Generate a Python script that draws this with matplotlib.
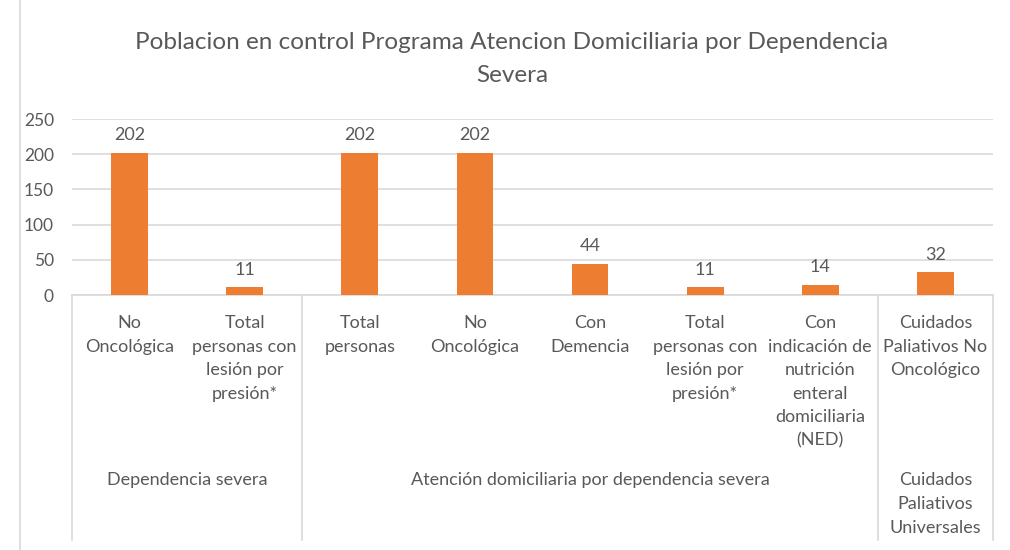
import matplotlib.pyplot as plt
import matplotlib.transforms as mtransforms

plt.rcParams["font.family"] = ["Lato", "DejaVu Sans"]

categories = [
    "No\nOncológica",
    "Total\npersonas con\nlesión por\npresión*",
    "Total\npersonas",
    "No\nOncológica",
    "Con\nDemencia",
    "Total\npersonas con\nlesión por\npresión*",
    "Con\nindicación de\nnutrición\nenteral\ndomiciliaria\n(NED)",
    "Cuidados\nPaliativos No\nOncológico",
]
values = [202, 11, 202, 202, 44, 11, 14, 32]
groups = ["Dependencia severa", "Atención domiciliaria por dependencia severa",
          "Cuidados\nPaliativos\nUniversales"]
group_sizes = [2, 5, 1]
yticks = [0, 50, 100, 150, 200, 250]

W, H = 1010, 550
TXT = "#595959"
LINE = "#d9d9d9"
BAR = "#ED7D31"
FS = 13


def fy(px):
    return 1 - px / H


fig = plt.figure(figsize=(W / 100, H / 100), dpi=100)
ax = fig.add_axes([72 / W, fy(295), (993 - 72) / W, (295 - 119) / H])

x = list(range(len(values)))
bars = ax.bar(x, values, width=0.32, color=BAR, zorder=3)
for b, v in zip(bars, values):
    ax.annotate(str(v), (b.get_x() + b.get_width() / 2, v), xytext=(0, 7),
                textcoords="offset points", ha="center", va="bottom",
                fontsize=FS, color=TXT)

ax.set_xlim(-0.5, len(values) - 0.5)
ax.set_ylim(0, 250)
ax.set_yticks(yticks)
ax.yaxis.grid(True, color=LINE, linewidth=1.2, zorder=0)
ax.set_xticks([])
for s in ["top", "right", "left"]:
    ax.spines[s].set_visible(False)
ax.spines["bottom"].set_color(LINE)
ax.spines["bottom"].set_linewidth(1.2)
ax.tick_params(axis="y", length=0, labelsize=12.5, labelcolor=TXT, pad=13)

trans = mtransforms.blended_transform_factory(ax.transData, fig.transFigure)

# category labels
for i, lab in enumerate(categories):
    ax.text(i, fy(315), lab, transform=trans, ha="center", va="top",
            fontsize=FS, color=TXT, linespacing=1.58)

# group labels and separators
start = -0.5
ax.plot([start, start], [fy(295), fy(540)], transform=trans, color=LINE,
        lw=1.2, clip_on=False)
for g, n in zip(groups, group_sizes):
    end = start + n
    ax.text((start + end) / 2, fy(472), g, transform=trans, ha="center",
            va="top", fontsize=FS, color=TXT, linespacing=1.62)
    ax.plot([end, end], [fy(295), fy(540)], transform=trans, color=LINE,
            lw=1.2, clip_on=False)
    start = end

fig.text(512 / W, fy(59), "Poblacion en control Programa Atencion Domiciliaria por Dependencia\nSevera",
         ha="center", va="center", fontsize=17.5, color=TXT, linespacing=1.65)

# outer chart border (left edge visible)
fig.add_artist(plt.Line2D([20 / W, 20 / W], [0, 1], color=LINE, lw=1.2))

fig.savefig("out.png", dpi=100, facecolor="white")
